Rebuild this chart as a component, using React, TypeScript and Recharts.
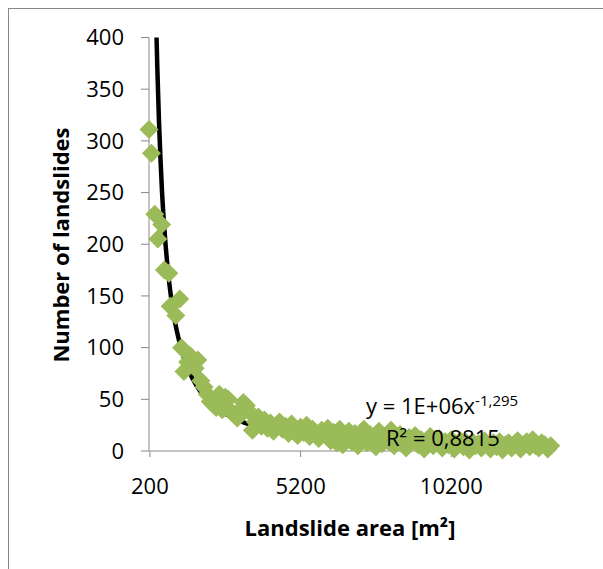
import React from 'react';
import {
  ComposedChart,
  Scatter,
  Line,
  XAxis,
  YAxis,
  ReferenceLine,
} from 'recharts';

// landslide area bins [m²] and the number of landslides per bin
const areas = [
  170, 250, 360, 465, 590, 680, 830, 870, 1060, 1190, 1250, 1330, 1450, 1550,
  1700, 1790, 1890, 2000, 2100, 2200, 2300, 2400, 2500, 2600, 2700, 2800, 2900,
  3000, 3100, 3200, 3300, 3400, 3500, 3600, 3700, 3800, 3900, 4000, 4100, 4200,
  4300, 4400, 4500, 4600, 4700, 4800, 4900, 5000, 5100, 5200, 5300, 5400, 5500,
  5600, 5700, 5800, 5900, 6000, 6100, 6200, 6300, 6400, 6500, 6600, 6700, 6800,
  6900, 7000, 7100, 7200, 7300, 7400, 7500, 7600, 7700, 7800, 7900, 8000, 8100,
  8200, 8300, 8400, 8500, 8600, 8700, 8800, 8900, 9000, 9100, 9200, 9300, 9400,
  9500, 9600, 9700, 9800, 9900, 10000, 10100, 10200, 10300, 10400, 10500, 10600,
  10700, 10800, 10900, 11000, 11100, 11200, 11300, 11400, 11500, 11600, 11700,
  11800, 11900, 12000, 12100, 12200, 12300, 12400, 12500, 12600, 12700, 12800,
  12900, 13000, 13100, 13200, 13300, 13400, 13500,
];
const counts = [
  311, 288, 229, 205, 219, 175, 172, 140, 131, 147, 100, 77, 86, 92, 80, 88, 68,
  62, 55, 48, 45, 42, 55, 40, 52, 50, 38, 35, 32, 40, 47, 44, 38, 20, 28, 33, 24,
  30, 22, 27, 19, 25, 28, 21, 24, 17, 26, 20, 15, 23, 18, 25, 14, 21, 17, 12, 20,
  16, 22, 10, 18, 8, 21, 6, 15, 19, 9, 17, 5, 13, 21, 8, 16, 11, 4, 19, 7, 14,
  10, 20, 5, 12, 16, 8, 3, 13, 9, 15, 6, 11, 2, 10, 14, 5, 8, 12, 3, 9, 6, 11, 2,
  7, 10, 4, 8, 1, 9, 5, 7, 3, 10, 6, 2, 8, 4, 9, 1, 6, 8, 3, 7, 10, 2, 6, 9, 4,
  11, 5, 3, 8, 6, 2, 5,
];

// power trendline
const trendAreas = [
  420, 450, 500, 550, 600, 700, 800, 900, 1000, 1200, 1500, 1750, 2000, 2500,
  3000, 3500, 4000, 5000, 6000, 7000, 8000, 10000, 12000, 13500,
];
const trendCounts = [
  400, 367, 320, 283, 252, 207, 174, 149, 130, 103, 77, 63, 53, 40, 31.4, 25.7,
  21.6, 16.2, 12.8, 10.5, 8.8, 6.6, 5.2, 4.5,
];

const xTicks = [200, 5200, 10200];
const yTicks = [0, 50, 100, 150, 200, 250, 300, 350, 400];

const points = areas.map((a, i) => ({ x: a, y: counts[i] }));
const trend = trendAreas.map((a, i) => ({ x: a, y: trendCounts[i] }));

const FONT = '"Open Sans", sans-serif';
const GREEN = '#9BBB59';
const AXIS = '#878787';

const Diamond = (props: any) => {
  const { cx, cy } = props;
  if (cx == null || cy == null) return null;
  const r = 9.5;
  return (
    <polygon
      points={`${cx},${cy - r} ${cx + r},${cy} ${cx},${cy + r} ${cx - r},${cy}`}
      fill={GREEN}
    />
  );
};

const App = () => {
  return (
    <>
      <div
        style={{
          position: 'absolute',
          left: 8,
          top: 8,
          width: 595,
          height: 561,
          boxSizing: 'border-box',
          borderTop: `1px solid ${AXIS}`,
          borderLeft: `1px solid ${AXIS}`,
        }}
      />
      <div style={{ position: 'absolute', left: 0, top: 0 }}>
        <ComposedChart
          width={603}
          height={569}
          margin={{ top: 37.5, right: 1, bottom: 58, left: 0 }}
        >
          <XAxis
            type="number"
            dataKey="x"
            domain={[200, 15200]}
            ticks={xTicks}
            axisLine={false}
            tickLine={{ stroke: AXIS }}
            tickSize={6}
            tickMargin={21}
            height={60}
            tick={{ fill: '#000', fontSize: 22, fontFamily: FONT }}
            label={() => (
              <text
                x={350}
                y={527}
                textAnchor="middle"
                dominantBaseline="central"
                fontFamily={FONT}
                fontSize={22}
                fontWeight="bold"
                fill="#000"
              >
                Landslide area [m²]
              </text>
            )}
          />
          <YAxis
            type="number"
            dataKey="y"
            domain={[0, 400]}
            ticks={yTicks}
            width={149}
            axisLine={{ stroke: AXIS }}
            tickLine={{ stroke: AXIS }}
            tickSize={8}
            tickMargin={17}
            tick={{ fill: '#000', fontSize: 22, fontFamily: FONT }}
            label={() => (
              <text
                x={60}
                y={245}
                transform="rotate(-90, 60, 245)"
                textAnchor="middle"
                dominantBaseline="central"
                fontFamily={FONT}
                fontSize={22}
                fontWeight="bold"
                fill="#000"
              >
                Number of landslides
              </text>
            )}
          />
          <ReferenceLine
            segment={[
              { x: 200, y: 0 },
              { x: 10200, y: 0 },
            ]}
            stroke={AXIS}
            strokeWidth={1}
          />
          <Scatter
            data={points}
            dataKey="y"
            shape={<Diamond />}
            isAnimationActive={false}
          />
          <Line
            data={trend}
            dataKey="y"
            type="monotone"
            stroke="#000"
            strokeWidth={4.5}
            dot={false}
            activeDot={false}
            isAnimationActive={false}
          />
        </ComposedChart>
      </div>
      <div
        style={{
          position: 'absolute',
          left: 366,
          top: 384,
          fontFamily: FONT,
          fontSize: 22,
          lineHeight: '32px',
          color: '#000',
          whiteSpace: 'nowrap',
        }}
      >
        <div>
          y = 1E+06x
          <span style={{ fontSize: 15, verticalAlign: 8 }}>-1,295</span>
        </div>
        <div style={{ marginLeft: 20 }}>R² = 0,8815</div>
      </div>
    </>
  );
};

export default App;
